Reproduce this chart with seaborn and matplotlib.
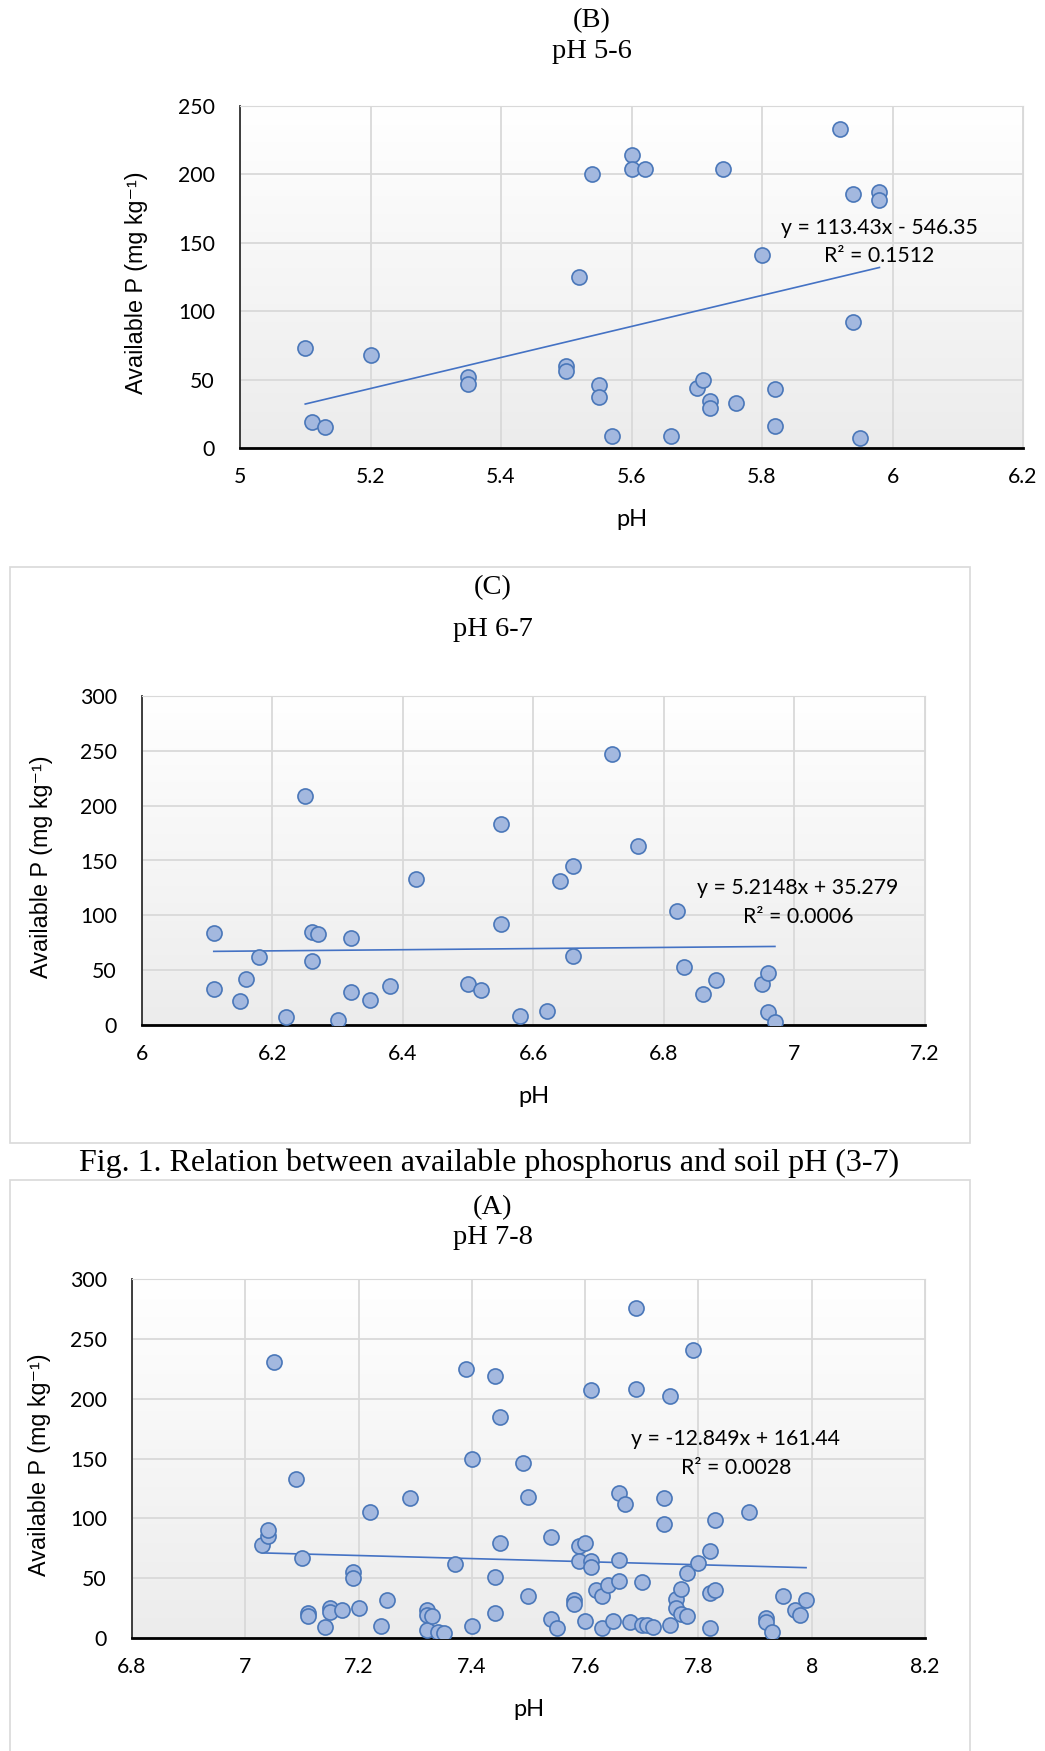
import numpy as np
import pandas as pd
import seaborn as sns
import matplotlib.pyplot as plt
from matplotlib.patches import Rectangle
from matplotlib.colors import LinearSegmentedColormap

# data
b_ph = [5.10, 5.11, 5.13, 5.20, 5.35, 5.35, 5.50, 5.50, 5.52, 5.54, 5.55, 5.55, 5.57, 5.60, 5.60, 5.62,
        5.66, 5.70, 5.71, 5.72, 5.72, 5.74, 5.76, 5.80, 5.82, 5.82, 5.92, 5.94, 5.94, 5.95, 5.98, 5.98]
b_p = [73, 19, 15, 68, 52, 47, 60, 56, 125, 200, 46, 37, 9, 214, 204, 204,
       9, 44, 50, 34, 29, 204, 33, 141, 43, 16, 233, 186, 92, 7, 187, 181]

c_ph = [6.11, 6.11, 6.15, 6.16, 6.18, 6.22, 6.25, 6.26, 6.27, 6.26, 6.30, 6.32, 6.32, 6.35, 6.38, 6.42,
        6.50, 6.52, 6.55, 6.55, 6.58, 6.62, 6.64, 6.66, 6.66, 6.72, 6.76, 6.82, 6.83, 6.86, 6.88, 6.95,
        6.96, 6.96, 6.97]
c_p = [84, 33, 22, 42, 62, 7, 209, 85, 83, 58, 5, 79, 30, 23, 36, 133,
       37, 32, 183, 92, 8, 13, 131, 145, 63, 247, 163, 104, 53, 28, 41, 37,
       47, 12, 3]

a_ph = [7.03, 7.04, 7.04, 7.05, 7.09, 7.10, 7.11, 7.11, 7.14, 7.15, 7.15, 7.17, 7.19, 7.19, 7.20, 7.22,
        7.24, 7.25, 7.29, 7.32, 7.32, 7.32, 7.33, 7.34, 7.35, 7.37, 7.39, 7.40, 7.40, 7.44, 7.44, 7.44,
        7.45, 7.45, 7.49, 7.50, 7.50, 7.54, 7.54, 7.55, 7.58, 7.58, 7.59, 7.59, 7.60, 7.60, 7.61, 7.61,
        7.61, 7.62, 7.63, 7.63, 7.64, 7.65, 7.66, 7.66, 7.66, 7.67, 7.68, 7.69, 7.69, 7.70, 7.70, 7.71,
        7.72, 7.74, 7.74, 7.75, 7.75, 7.76, 7.76, 7.77, 7.77, 7.78, 7.78, 7.79, 7.80, 7.82, 7.82, 7.82,
        7.83, 7.83, 7.89, 7.92, 7.92, 7.93, 7.95, 7.97, 7.98, 7.99]
a_p = [78, 85, 90, 231, 133, 67, 21, 18, 9, 25, 22, 23, 55, 50, 25, 105,
       10, 32, 117, 23, 19, 7, 18, 5, 4.5, 62, 225, 150, 10, 219, 51, 21,
       185, 79, 146, 118, 35, 84, 16, 8, 32, 28, 77, 64, 79, 14, 207, 64,
       59, 40, 35, 8, 44, 14, 121, 65, 48, 112, 13, 276, 208, 47, 11, 11,
       9, 117, 95, 202, 11, 33, 25, 41, 20, 18, 54, 241, 63, 73, 38, 8,
       99, 40, 105, 17, 13, 5, 35, 23, 19, 32]

# trendline coefficients shown on the chart
b_fit = (113.43, -546.35)
c_fit = (5.2148, 35.279)
a_fit = (-12.849, 161.44)

b_eq = ["y = 113.43x - 546.35", "R\u00b2 = 0.1512"]
c_eq = ["y = 5.2148x + 35.279", "R\u00b2 = 0.0006"]
a_eq = ["y = -12.849x + 161.44", "R\u00b2 = 0.0028"]

W, H = 1045, 1751
fig = plt.figure(figsize=(W / 100, H / 100), dpi=100)

SERIF = "Liberation Serif"
SANS = "Lato"
GRID = "#d9d9d9"
TITLE_FS = 20.5
ylab = "Available P (mg kg\u207b\u00b9)"
bg = LinearSegmentedColormap.from_list("bg", ["#ececec", "#ffffff"])


def fx(px):
    return px / W


def fy(py):
    return 1 - py / H


def panel(box, xlim, xticks, ylim, yticks, ph, p, fit, eq, eqpos, ylab_x):
    left, top, right, bottom = box
    ax = fig.add_axes([fx(left), fy(bottom), fx(right - left), (bottom - top) / H])
    # background gradient, light gray at the bottom
    grad = np.linspace(1, 0, 256).reshape(-1, 1)
    ax.imshow(grad, extent=[0, 1, 0, 1], transform=ax.transAxes, aspect="auto",
              cmap=bg, zorder=0)
    df = pd.DataFrame({"pH": ph, "P": p})
    sns.scatterplot(data=df, x="pH", y="P", ax=ax, s=118, color="#a3b8df",
                    edgecolor="#4a77b9", linewidth=1.2, zorder=3)
    xs = np.array([min(ph), max(ph)])
    ax.plot(xs, fit[0] * xs + fit[1], color="#4472c4", lw=1.2, zorder=2)
    ax.set_xlim(*xlim)
    ax.set_ylim(*ylim)
    ax.set_xticks(xticks)
    ax.set_xticklabels([f"{t:g}" for t in xticks])
    ax.set_yticks(yticks)
    ax.grid(True, color=GRID, lw=1.3, zorder=1)
    ax.set_axisbelow(True)
    ax.tick_params(length=0, labelsize=15.3, pad=14)
    for lab in ax.get_xticklabels() + ax.get_yticklabels():
        lab.set_fontfamily(SANS)
    ax.tick_params(axis="y", pad=18)
    ax.spines["top"].set_color(GRID)
    ax.spines["right"].set_color(GRID)
    ax.spines["left"].set_color("#303030")
    ax.spines["left"].set_linewidth(1.3)
    ax.spines["bottom"].set_color("#000000")
    ax.spines["bottom"].set_linewidth(2)
    ax.set_xlabel("")
    ax.set_ylabel("")
    ax.text(eqpos[0], eqpos[1], eq[0], ha="center", va="center", fontsize=15.3,
            family=SANS, zorder=4)
    ax.text(eqpos[0], eqpos[2], eq[1], ha="center", va="center", fontsize=15.3,
            family=SANS, zorder=4)
    # axis titles
    fig.text(fx((left + right) / 2), fy(bottom + 71), "pH", ha="center", va="center",
             fontsize=17, family=SANS)
    fig.text(fx(ylab_x), fy((top + bottom) / 2 + 6), ylab, rotation=90, ha="center",
             va="center", fontsize=16.8, family=["Liberation Sans", "DejaVu Sans"])
    return ax


# panel B
fig.text(fx(592), fy(21), "(B)", ha="center", va="center", fontsize=TITLE_FS, family=SERIF)
fig.text(fx(592), fy(52), "pH 5-6", ha="center", va="center", fontsize=TITLE_FS, family=SERIF)
panel((240, 106, 1023, 448), (5, 6.2), [5, 5.2, 5.4, 5.6, 5.8, 6, 6.2], (0, 250),
      [0, 50, 100, 150, 200, 250], b_ph, b_p, b_fit, b_eq, (5.98, 161, 140), 136)

# panel C
fig.patches.append(Rectangle((fx(10), fy(1143)), fx(960), 576 / H, transform=fig.transFigure,
                             fill=False, edgecolor=GRID, lw=1.2))
fig.text(fx(493), fy(588), "(C)", ha="center", va="center", fontsize=TITLE_FS, family=SERIF)
fig.text(fx(493), fy(630), "pH 6-7", ha="center", va="center", fontsize=TITLE_FS, family=SERIF)
panel((142, 696, 925, 1025), (6, 7.2), [6, 6.2, 6.4, 6.6, 6.8, 7, 7.2], (0, 300),
      [0, 50, 100, 150, 200, 250, 300], c_ph, c_p, c_fit, c_eq, (7.005, 125, 98.5), 42)

fig.text(fx(489), fy(1163), "Fig. 1. Relation between available phosphorus and soil pH (3-7)",
         ha="center", va="center", fontsize=23, family=SERIF)

# panel A
fig.patches.append(Rectangle((fx(10), fy(1760)), fx(960), 580 / H, transform=fig.transFigure,
                             fill=False, edgecolor=GRID, lw=1.2))
fig.text(fx(493), fy(1208), "(A)", ha="center", va="center", fontsize=TITLE_FS, family=SERIF)
fig.text(fx(493), fy(1237), "pH 7-8", ha="center", va="center", fontsize=TITLE_FS, family=SERIF)
panel((132, 1279, 925, 1638), (6.8, 8.2), [6.8, 7, 7.2, 7.4, 7.6, 7.8, 8, 8.2], (0, 300),
      [0, 50, 100, 150, 200, 250, 300], a_ph, a_p, a_fit, a_eq, (7.866, 166, 142), 40)

fig.savefig("out.png", dpi=100, facecolor="white")
